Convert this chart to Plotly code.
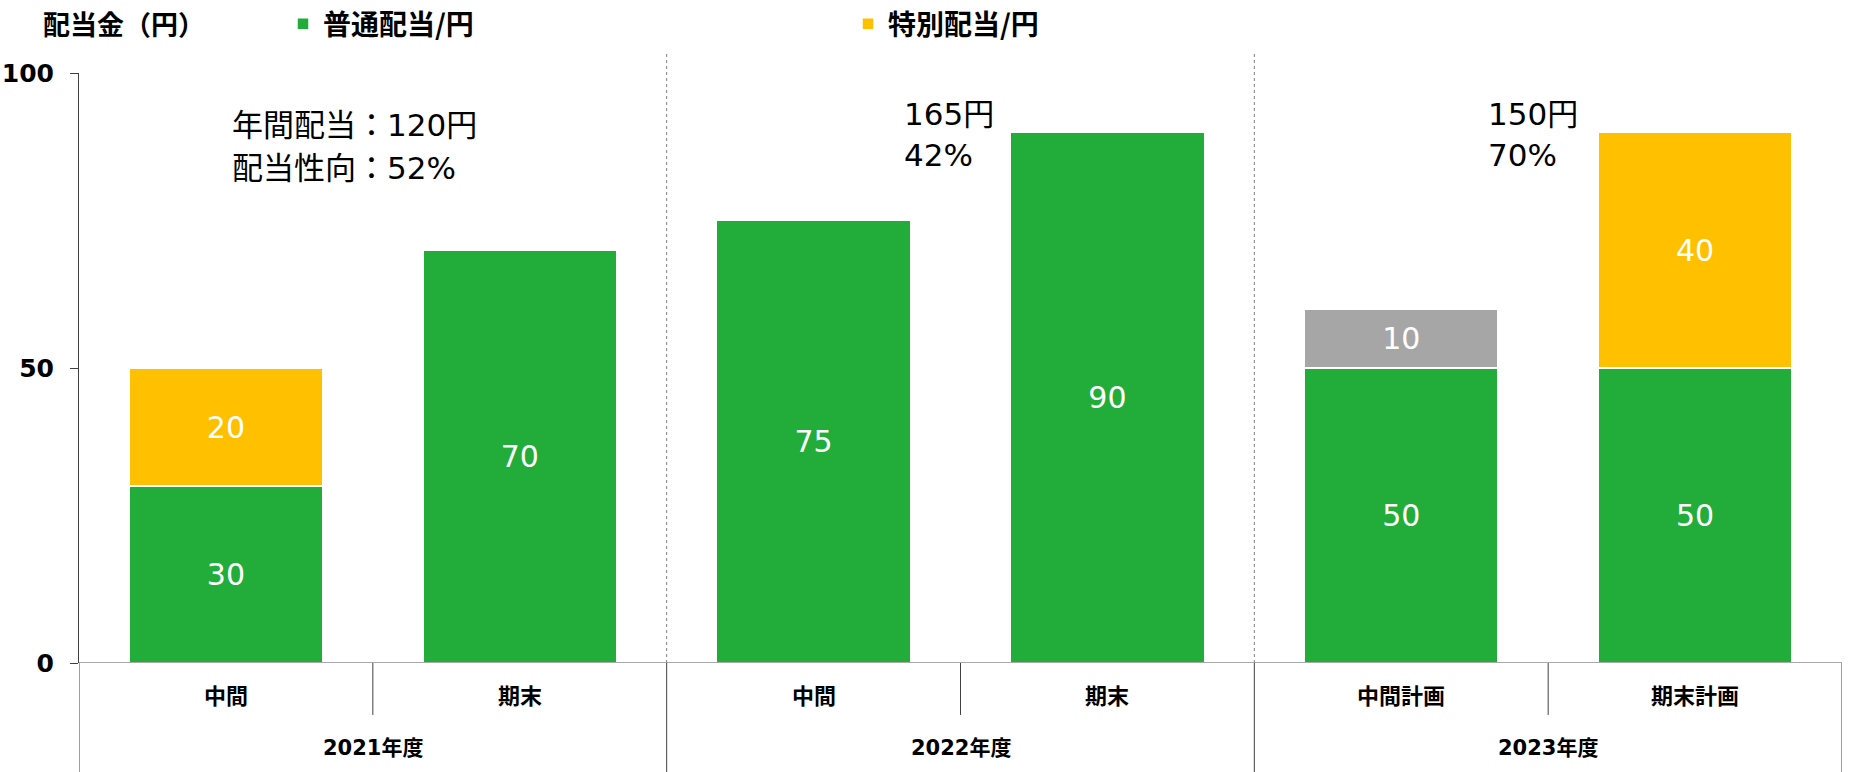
import plotly.graph_objects as go

# ---- data ----
years = ["2021年度", "2022年度", "2023年度"]
periods = ["中間", "期末", "中間", "期末", "中間計画", "期末計画"]
regular = [30, 70, 75, 90, 50, 50]          # 普通配当/円
special = [20, None, None, None, None, 40]  # 特別配当/円
planned_extra = [None, None, None, None, 10, None]  # gray segment
annual_notes = [["年間配当：120円", "配当性向：52%"], ["165円", "42%"], ["150円", "70%"]]
yticks = [0, 50, 100]

GREEN = "#22AD3A"
ORANGE = "#FFC000"
GRAY = "#A6A6A6"
FONT = "DejaVu Sans, Noto Sans CJK JP"
CJK = "Noto Sans CJK JP"

xs = list(range(len(periods)))

fig = go.Figure()

def lab(v):
    return [("" if x is None else str(x)) for x in v]

def bar(y, name, color, show=True):
    return go.Bar(
        x=xs, y=y, name=f"<b>{name}</b>", showlegend=show,
        marker=dict(color=color, line=dict(color="white", width=1.5)),
        text=lab(y), textposition="inside", insidetextanchor="middle",
        textfont=dict(color="white", size=30, family=FONT), width=0.66)

fig.add_trace(bar(regular, "普通配当/円", GREEN))
fig.add_trace(bar(special, "特別配当/円", ORANGE))
fig.add_trace(bar(planned_extra, "計画", GRAY, show=False))

shapes = []
# dashed separators between years
for xb in [1.5, 3.5]:
    shapes.append(dict(type="line", xref="x", yref="paper", x0=xb, x1=xb, y0=0, y1=1.034,
                       line=dict(color="#7f7f7f", width=1, dash="dot")))
# category dividers below axis
for xb in [0.5, 2.5, 4.5]:
    shapes.append(dict(type="line", xref="x", yref="paper", x0=xb, x1=xb, y0=0, y1=-0.088,
                       line=dict(color="#404040", width=1)))
for xb in [-0.5, 1.5, 3.5, 5.5]:
    shapes.append(dict(type="line", xref="x", yref="paper", x0=xb, x1=xb, y0=0, y1=-0.19,
                       line=dict(color="#404040", width=1)))
# zero line
shapes.append(dict(type="line", xref="x", yref="y", x0=-0.5, x1=5.5, y0=0, y1=0,
                   line=dict(color="#8c8c8c", width=1.5)))

annotations = []
for i, p in enumerate(periods):
    annotations.append(dict(x=i, y=-0.056, xref="x", yref="paper", text=f"<b>{p}</b>",
                            showarrow=False, font=dict(size=22, color="black", family=FONT),
                            yanchor="middle"))
for j, yr in enumerate(years):
    annotations.append(dict(x=2 * j + 0.5, y=-0.144, xref="x", yref="paper", text=f"<b>{yr}</b>",
                            showarrow=False, font=dict(size=21, color="black", family=FONT),
                            yanchor="middle"))
note_x = [0.015, 2.3, 4.29]
note_y = [[91.2, 83.9], [93.0, 86.1], [93.0, 86.1]]
for j, lines in enumerate(annual_notes):
    for k, t in enumerate(lines):
        annotations.append(dict(x=note_x[j], y=note_y[j][k],
                                xref="x", yref="y", text=t, showarrow=False,
                                xanchor="left", yanchor="middle",
                                font=dict(size=31, color="black", family=FONT)))
annotations.append(dict(x=-0.0216, y=1.0831, xref="paper", yref="paper",
                        text="<b>配当金（円）</b>",
                        showarrow=False, xanchor="left", yanchor="middle",
                        font=dict(size=27, color="black", family=CJK)))

fig.update_layout(
    barmode="stack",
    width=1854, height=772,
    margin=dict(l=79, r=12, t=73, b=109, autoexpand=False),
    plot_bgcolor="white", paper_bgcolor="white",
    font=dict(family=FONT, color="black"),
    shapes=shapes, annotations=annotations,
    legend=dict(orientation="h", xref="container", yref="container",
                x=283 / 1854, y=1 - 24 / 772, xanchor="left", yanchor="middle",
                entrywidth=520, entrywidthmode="pixels", traceorder="normal",
                font=dict(size=28, color="black", family=CJK), bgcolor="rgba(0,0,0,0)"),
    xaxis=dict(range=[-0.5, 5.5], showticklabels=False, showgrid=False, zeroline=False,
               showline=False, ticks="", automargin=False),
    yaxis=dict(range=[0, 100], tickvals=yticks, ticktext=[f"<b>{v}</b>" for v in yticks],
               showgrid=False, zeroline=False, showline=True, linecolor="#404040", linewidth=1,
               ticks="outside", ticklen=8, tickcolor="#404040", automargin=False,
               ticklabelstandoff=11,
               tickfont=dict(size=25, color="black", family=FONT)),
)

fig.write_html("out.html", config={"displayModeBar": False},
               post_script="document.body.style.margin='0px';")
